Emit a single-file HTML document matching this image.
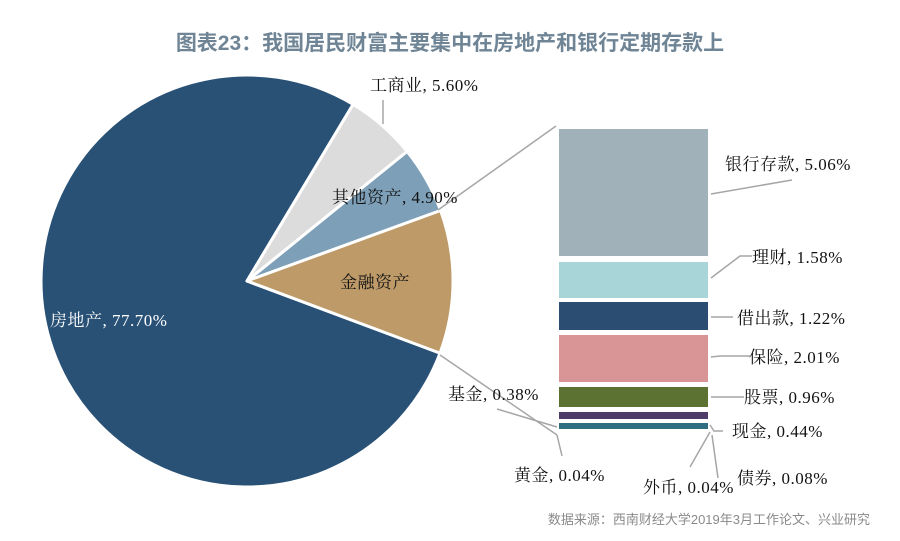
<!DOCTYPE html>
<html><head><meta charset="utf-8"><style>
html,body{margin:0;padding:0;background:#fff;}
svg{display:block;}
.t{font-family:"Liberation Serif","Noto Serif CJK SC",serif;font-size:17px;fill:#111;letter-spacing:0.5px;}
</style></head><body>
<svg width="900" height="541" viewBox="0 0 900 541" xmlns="http://www.w3.org/2000/svg">
<text x="450" y="50" text-anchor="middle" style="font-family:'Liberation Sans','Noto Sans CJK SC',sans-serif;font-size:21px;font-weight:bold;fill:#6f8596">图表23：我国居民财富主要集中在房地产和银行定期存款上</text>
<g stroke="#fff" stroke-width="3" stroke-linejoin="round">
<path d="M247,281 L440,353.1 A206,206 0 1 1 353.1,104.4 Z" fill="#295176"/>
<path d="M247,281 L353.1,104.4 A206,206 0 0 1 407.1,151.4 Z" fill="#dcdcdc"/>
<path d="M247,281 L407.1,151.4 A206,206 0 0 1 440.6,210.5 Z" fill="#7d9fb8"/>
<path d="M247,281 L440.6,210.5 A206,206 0 0 1 440,353.1 Z" fill="#bd9a68"/>
</g>
<g stroke="#a6a6a6" stroke-width="1.5" fill="none">
<line x1="438" y1="210" x2="556" y2="126"/>
<line x1="440" y1="355" x2="557" y2="435"/>
<line x1="497" y1="409" x2="557" y2="427"/>
<line x1="557" y1="435" x2="562" y2="456"/>
<line x1="710" y1="432" x2="690" y2="467"/>
<line x1="712" y1="435" x2="718" y2="478"/>
<polyline points="710,425 714,431 723,431"/>
<line x1="383" y1="100" x2="383" y2="124"/>
<line x1="711" y1="194" x2="792" y2="180"/>
<polyline points="711,278 740,256 752,256"/>
<line x1="711" y1="317" x2="733" y2="317"/>
<polyline points="711,357 720,356 750,356"/>
<line x1="711" y1="397" x2="744" y2="397"/>
</g>
<rect x="559" y="129" width="149" height="127" fill="#a0b1ba"/>
<rect x="559" y="262" width="149" height="36" fill="#a8d5d8"/>
<rect x="559" y="302" width="149" height="28" fill="#2b4d72"/>
<rect x="559" y="335" width="149" height="47" fill="#d99596"/>
<rect x="559" y="387" width="149" height="20" fill="#5c7232"/>
<rect x="559" y="412" width="149" height="7" fill="#4e3b68"/>
<rect x="559" y="423" width="149" height="6" fill="#2e6e80"/>
<text class="t" x="370" y="91">工商业, 5.60%</text>
<text class="t" x="332" y="203">其他资产, 4.90%</text>
<text class="t" x="340" y="288">金融资产</text>
<text class="t" x="50" y="326" style="fill:#fff">房地产, 77.70%</text>
<text class="t" x="725" y="170">银行存款, 5.06%</text>
<text class="t" x="752" y="263">理财, 1.58%</text>
<text class="t" x="737" y="324">借出款, 1.22%</text>
<text class="t" x="749" y="363">保险, 2.01%</text>
<text class="t" x="744" y="403">股票, 0.96%</text>
<text class="t" x="732" y="437">现金, 0.44%</text>
<text class="t" x="448" y="400">基金, 0.38%</text>
<text class="t" x="514" y="481">黄金, 0.04%</text>
<text class="t" x="643" y="493">外币, 0.04%</text>
<text class="t" x="737" y="484">债券, 0.08%</text>
<text x="870" y="524" text-anchor="end" style="font-family:'Liberation Sans','Noto Sans CJK SC',sans-serif;font-size:13px;fill:#8a8a8a">数据来源：西南财经大学2019年3月工作论文、兴业研究</text>
</svg>
</body></html>
